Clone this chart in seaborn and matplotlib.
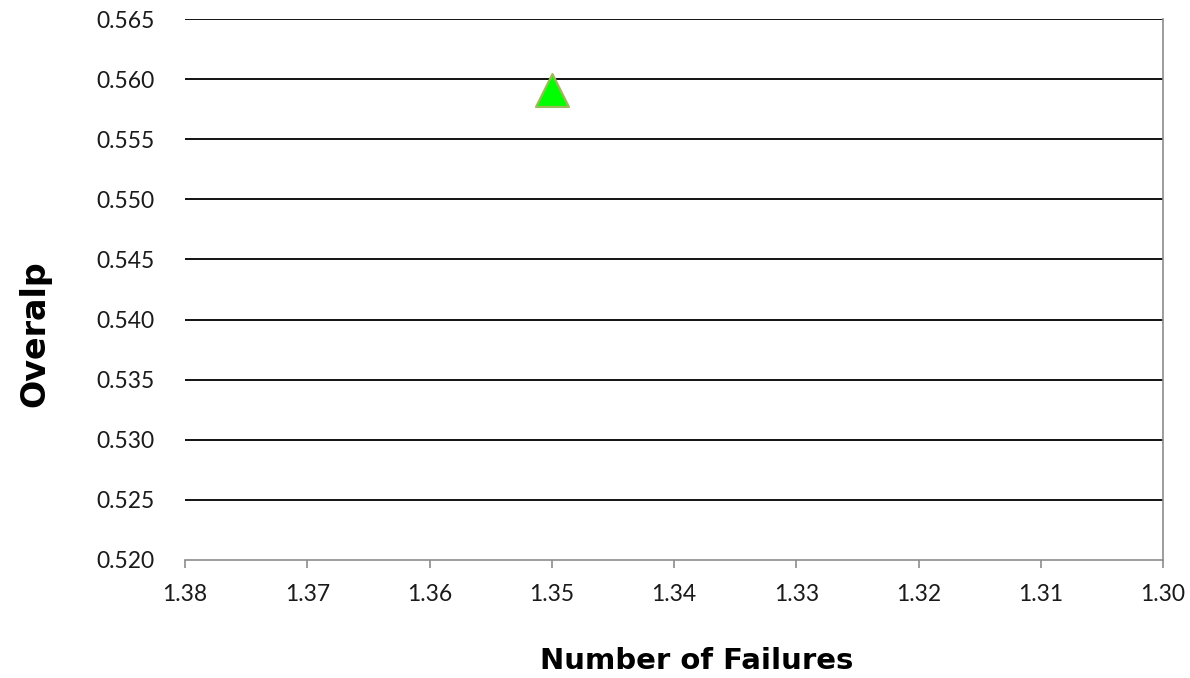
import matplotlib
matplotlib.use("Agg")
import matplotlib.pyplot as plt
import seaborn as sns
import pandas as pd

# Data
failures = [1.35]
overlap = [0.5591]

x_ticks = [1.38, 1.37, 1.36, 1.35, 1.34, 1.33, 1.32, 1.31, 1.30]
y_ticks = [0.520, 0.525, 0.530, 0.535, 0.540, 0.545, 0.550, 0.555, 0.560, 0.565]

df = pd.DataFrame({"Number of Failures": failures, "Overalp": overlap})

sns.set_theme(style="white")
plt.rcParams["font.family"] = ["Lato", "DejaVu Sans"]

fig = plt.figure(figsize=(11.9, 6.78), dpi=100)
ax = fig.add_axes([185 / 1190, 1 - 560 / 678, (1163 - 185) / 1190, (560 - 19) / 678])

sns.scatterplot(data=df, x="Number of Failures", y="Overalp", marker="^",
                s=560, color="#00FF00", edgecolor="#9BBB59", linewidth=1.6,
                ax=ax, zorder=5, legend=False)

ax.set_xlim(1.38, 1.30)
ax.set_ylim(0.520, 0.565)
ax.set_xticks(x_ticks)
ax.set_xticklabels([f"{v:.2f}" for v in x_ticks])
ax.set_yticks(y_ticks)
ax.set_yticklabels([f"{v:.3f}" for v in y_ticks])

# horizontal gridlines
for v in y_ticks[1:]:
    ax.axhline(v, color="black", linewidth=1.3, zorder=1)

for side in ["left", "top"]:
    ax.spines[side].set_visible(False)
for side in ["bottom", "right"]:
    ax.spines[side].set_visible(True)
    ax.spines[side].set_color("#8c8c8c")
    ax.spines[side].set_linewidth(1.2)

ax.tick_params(axis="x", which="major", bottom=True, length=6, width=1.2,
               color="#8c8c8c", labelsize=16.5, pad=11, labelcolor="#1a1a1a")
ax.tick_params(axis="y", which="major", left=False, right=False, labelsize=16.5,
               pad=16, labelcolor="#1a1a1a")

ax.set_xlabel("Number of Failures", fontsize=21, fontweight="bold",
              family="DejaVu Sans", color="black", ha="center", va="center")
ax.set_ylabel("Overalp", fontsize=24, fontweight="bold",
              family="DejaVu Sans", color="black", ha="center", va="center")
ax.xaxis.set_label_coords((697 - 185) / 978, -(661 - 560) / 541)
ax.yaxis.set_label_coords(-(185 - 35) / 978, (560 - 334) / 541)

fig.savefig("out.png", dpi=100)
